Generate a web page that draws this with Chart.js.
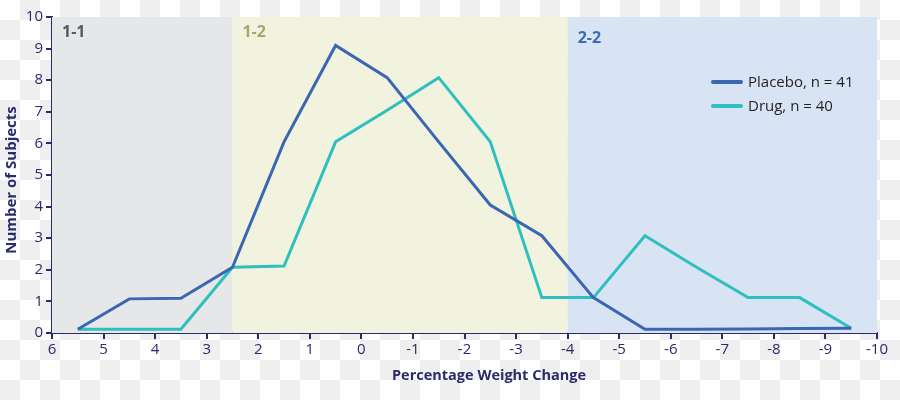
<!DOCTYPE html>
<html>
<head>
<meta charset="utf-8">
<script src="https://cdn.jsdelivr.net/npm/chart.js@4.4.1/dist/chart.umd.min.js"></script>
<style>
  html, body { margin: 0; padding: 0; }
  body {
    width: 900px; height: 400px; overflow: hidden;
    background: repeating-conic-gradient(#efefef 0% 25%, #ffffff 0% 50%) 0 0 / 40px 40px;
  }
  #wrap { position: relative; width: 900px; height: 400px; }
</style>
</head>
<body>
<div id="wrap"><canvas id="c" width="900" height="400"></canvas></div>
<script>
// ---- data ----
const changePct = [5.5, 4.5, 3.5, 2.5, 1.5, 0.5, -0.5, -1.5, -2.5, -3.5, -4.5, -5.5, -6.5, -7.5, -8.5, -9.5];
const placeboCounts = [0.12, 1.08, 1.1, 2.08, 6.05, 9.1, 8.08, 6.05, 4.05, 3.08, 1.12, 0.12, 0.12, 0.13, 0.14, 0.15];
const drugCounts    = [0.12, 0.12, 0.12, 2.08, 2.12, 6.05, 7.05, 8.08, 6.05, 1.12, 1.12, 3.08, 2.08, 1.12, 1.12, 0.15];
const seriesNames = ['Placebo, n = 41', 'Drug, n = 40'];
const zoneNames = ['1-1', '1-2', '2-2'];
const zoneBounds = [6, 2.5, -4, -10];
const xTitle = 'Percentage Weight Change';
const yTitle = 'Number of Subjects';

const NAVY = '#2a2a6c';
const PLACEBO = '#3b66b2';
const DRUG = '#2fbfbf';
const zoneFills = ['#e6e7e9', '#f2f3de', '#d8e4f4'];
const zoneTextColors = ['#58595b', '#a3a66e', '#3c6ab3'];
const FONT = '"Open Sans", "Liberation Sans", sans-serif';

const toPts = (ys) => changePct.map((x, i) => ({ x: x, y: ys[i] }));

const decor = {
  id: 'decor',
  beforeDatasetsDraw(chart) {
    const { ctx, chartArea: a, scales: { x, y } } = chart;
    ctx.save();
    for (let i = 0; i < zoneNames.length; i++) {
      const x0 = x.getPixelForValue(zoneBounds[i]);
      const x1 = x.getPixelForValue(zoneBounds[i + 1]);
      ctx.fillStyle = zoneFills[i];
      ctx.fillRect(Math.min(x0, x1), y.getPixelForValue(10), Math.abs(x1 - x0), y.getPixelForValue(0) - y.getPixelForValue(10));
    }
    ctx.font = 'bold 16px ' + FONT;
    ctx.textBaseline = 'middle';
    ctx.textAlign = 'left';
    const yOff = [15, 15, 21];
    for (let i = 0; i < zoneNames.length; i++) {
      ctx.fillStyle = zoneTextColors[i];
      ctx.fillText(zoneNames[i], x.getPixelForValue(zoneBounds[i]) + 10, a.top + yOff[i]);
    }
    ctx.restore();
  },
  afterDraw(chart) {
    const { ctx } = chart;
    ctx.save();
    // legend
    const ds = chart.data.datasets;
    ds.forEach((d, i) => {
      const ly = 82 + i * 24;
      ctx.strokeStyle = d.borderColor;
      ctx.lineWidth = 4;
      ctx.lineCap = 'round';
      ctx.beginPath();
      ctx.moveTo(713, ly);
      ctx.lineTo(741, ly);
      ctx.stroke();
      ctx.fillStyle = '#231f20';
      ctx.font = '15px ' + FONT;
      ctx.textBaseline = 'middle';
      ctx.textAlign = 'left';
      ctx.fillText(d.label, 748, ly + 1);
    });
    // axis titles
    ctx.fillStyle = NAVY;
    ctx.font = 'bold 14.5px ' + FONT;
    ctx.textAlign = 'center';
    ctx.textBaseline = 'middle';
    ctx.fillText(xTitle, 489, 376);
    ctx.save();
    ctx.translate(12, 180);
    ctx.rotate(-Math.PI / 2);
    ctx.font = 'bold 15px ' + FONT;
    ctx.fillText(yTitle, 0, 0);
    ctx.restore();
    ctx.restore();
  }
};

new Chart(document.getElementById('c'), {
  type: 'line',
  data: {
    datasets: [
      { label: seriesNames[0], data: toPts(placeboCounts), borderColor: PLACEBO, borderWidth: 3, pointRadius: 0, tension: 0, borderJoinStyle: 'miter', fill: false },
      { label: seriesNames[1], data: toPts(drugCounts), borderColor: DRUG, borderWidth: 3, pointRadius: 0, tension: 0, borderJoinStyle: 'miter', fill: false }
    ]
  },
  options: {
    responsive: false,
    animation: false,
    layout: { padding: { left: 0, right: 23, top: 17, bottom: 0 } },
    plugins: { legend: { display: false }, tooltip: { enabled: false } },
    scales: {
      x: {
        type: 'linear', reverse: true, min: -10, max: 6,
        afterFit(s) { s.height = 67; },
        border: { color: NAVY, width: 2 },
        grid: { drawOnChartArea: false, drawTicks: true, tickLength: 6, color: NAVY, lineWidth: 2 },
        ticks: { stepSize: 1, color: NAVY, font: { family: FONT, size: 15 }, padding: 2, maxRotation: 0, autoSkip: false }
      },
      y: {
        min: 0, max: 10,
        afterFit(s) { s.width = 52; },
        border: { color: NAVY, width: 2 },
        grid: { drawOnChartArea: false, drawTicks: true, tickLength: 6, color: NAVY, lineWidth: 2 },
        ticks: { stepSize: 1, color: NAVY, font: { family: FONT, size: 15 }, padding: 3 }
      }
    }
  },
  plugins: [decor]
});
</script>
</body>
</html>
